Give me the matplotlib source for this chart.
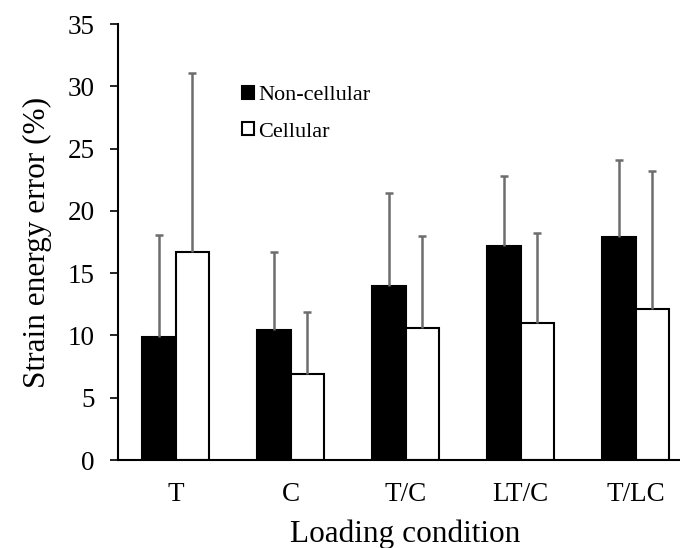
import matplotlib
matplotlib.use("Agg")
import matplotlib.pyplot as plt
import numpy as np

# values (percent)
conditions = ["T", "C", "T/C", "LT/C", "T/LC"]
noncellular = [9.9, 10.4, 14.0, 17.2, 17.9]
noncellular_sd = [8.2, 6.3, 7.4, 5.6, 6.2]
cellular = [16.7, 6.9, 10.6, 11.0, 12.1]
cellular_sd = [14.4, 5.0, 7.4, 7.2, 11.1]

plt.rcParams["font.family"] = ["Liberation Serif", "DejaVu Serif"]

fig = plt.figure(figsize=(6.8, 5.48), dpi=100)
# axes run a little past the right edge, as in the cropped original
ax = fig.add_axes([118 / 680, 88 / 548, 575 / 680, 436 / 548])

x = np.arange(len(conditions))
w = 0.29
err_col = "#6d6d6d"

b1 = ax.bar(x - w / 2, noncellular, w, color="black", edgecolor="black",
            linewidth=1.5, label="Non-cellular", zorder=2)
b2 = ax.bar(x + w / 2, cellular, w, color="white", edgecolor="black",
            linewidth=1.5, label="Cellular", zorder=2)

for xs, ys, sd in [(x - w / 2, noncellular, noncellular_sd),
                   (x + w / 2, cellular, cellular_sd)]:
    eb = ax.errorbar(xs, ys, yerr=[np.zeros(len(sd)), sd], fmt="none",
                     ecolor=err_col, elinewidth=1.8, capsize=3,
                     capthick=1.8, zorder=3)
    eb[1][0].set_visible(False)  # no lower cap, upper only

ax.set_xlim(-0.5, 4.5)
ax.set_ylim(0, 35)
ax.set_yticks(np.arange(0, 36, 5))
ax.set_xticks(x)
ax.set_xticklabels(conditions)

for s in ["top", "right"]:
    ax.spines[s].set_visible(False)
ax.spines["left"].set_linewidth(1.5)
ax.spines["bottom"].set_linewidth(1.5)

ax.tick_params(axis="y", direction="out", length=6, width=1.2,
               labelsize=19.5, pad=11)
ax.tick_params(axis="x", length=0, labelsize=19.5, pad=16)

ax.set_xlabel("Loading condition", fontsize=22.5, labelpad=9)
ax.set_ylabel("Strain energy error (%)", fontsize=22.5, labelpad=11)

ax.legend(loc="upper left", bbox_to_anchor=(0.216, 0.858), frameon=False,
          fontsize=16, handlelength=0.52, handleheight=0.52,
          handletextpad=0.2, labelspacing=0.76, borderpad=0,
          borderaxespad=0)

fig.savefig("out.png", dpi=100)
